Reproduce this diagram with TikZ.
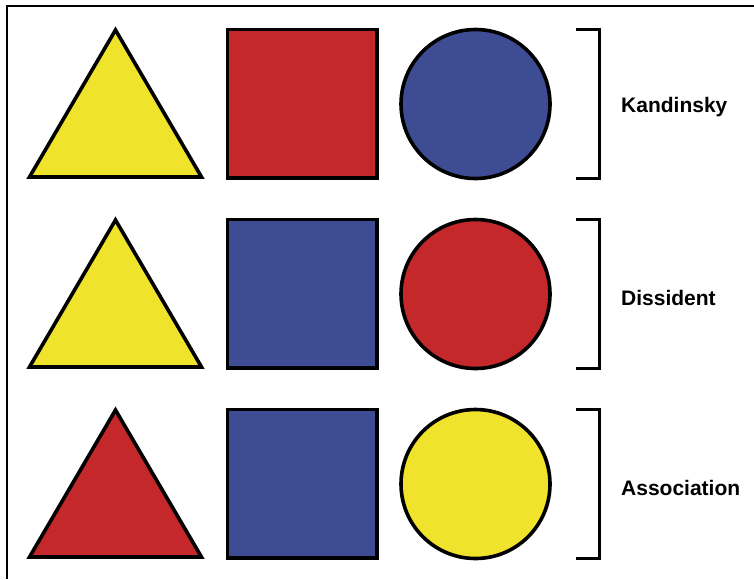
\documentclass[tikz,border=0pt]{standalone}
\usepackage{fontspec}
\setmainfont{Liberation Sans}
\definecolor{shapeyellow}{HTML}{EFE32B}
\definecolor{shapered}{HTML}{C4282A}
\definecolor{shapeblue}{HTML}{3E4C94}
\begin{document}
\begin{tikzpicture}[x=1pt,y=-1pt,
  outline/.style={draw=black,line width=3.6pt,line join=miter},
  bracketline/.style={draw=black,line width=3pt},
  label/.style={anchor=west,inner sep=0pt,font=\fontsize{21}{24}\selectfont\bfseries}]
  \useasboundingbox (0,0) rectangle (754,579);
  \fill[white] (0,0) rectangle (754,579);
  % frame: top and left edges only
  \draw[line width=2pt] (6.5,579) -- (6.5,5.5) -- (754,5.5);

  % one row: triangle, square, circle, bracket, label
  \foreach \row/\tri/\sq/\circ/\name/\txt in {
      0/shapeyellow/shapered/shapeblue/kand/Kandinsky,
      1/shapeyellow/shapeblue/shapered/diss/Dissident,
      2/shapered/shapeblue/shapeyellow/assoc/Association}{
    \pgfmathsetmacro{\yo}{190*\row}
    \begin{scope}[yshift=-\yo pt]
      \path[outline,fill=\tri] (115.5,30) -- (201.5,177) -- (29.5,177) -- cycle;
      \path[outline,fill=\sq] (227.5,29.5) rectangle (377,178);
      \path[outline,fill=\circ] (475.5,104) circle (74.5);
      \coordinate (\name-top) at (576,29.5);
      \coordinate (\name-bot) at (576,178.5);
      \draw[bracketline] (\name-top) -| (599,178.5) -- (\name-bot);
      \node[label] (\name) at (621,107.5) {\txt};
    \end{scope}
  }
\end{tikzpicture}
\end{document}
